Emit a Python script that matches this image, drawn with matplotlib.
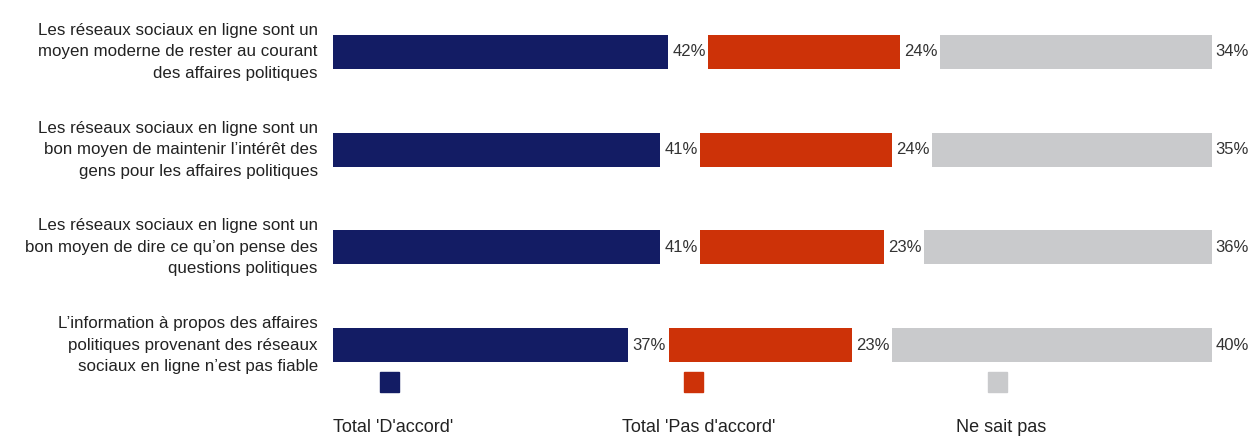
import matplotlib.pyplot as plt
from matplotlib.patches import Rectangle

plt.rcParams['font.family'] = ['Liberation Sans Narrow', 'Liberation Sans', 'DejaVu Sans']

statements = [
    "Les réseaux sociaux en ligne sont un\nmoyen moderne de rester au courant\ndes affaires politiques",
    "Les réseaux sociaux en ligne sont un\nbon moyen de maintenir l\u2019intérêt des\ngens pour les affaires politiques",
    "Les réseaux sociaux en ligne sont un\nbon moyen de dire ce qu\u2019on pense des\nquestions politiques",
    "L\u2019information à propos des affaires\npolitiques provenant des réseaux\nsociaux en ligne n\u2019est pas fiable",
]
series_names = ["Total 'D'accord'", "Total 'Pas d'accord'", "Ne sait pas"]
agree = [42, 41, 41, 37]
disagree = [24, 24, 23, 23]
dont_know = [34, 35, 36, 40]
colors = ["#131c64", "#cd3208", "#c9cacc"]

W, H = 1251, 438
fig = plt.figure(figsize=(W / 100, H / 100), dpi=100)
ax = fig.add_axes([333 / W, 0, (W - 333) / W, 1])
ax.set_xlim(0, (W - 333) / 7.98)
ax.set_ylim(3.951, -0.532)
ax.axis('off')

gap = 5.05
for i in range(len(statements)):
    left = 0
    for j, vals in enumerate([agree, disagree, dont_know]):
        v = vals[i]
        ax.barh(i, v, left=left, height=0.35, color=colors[j])
        ax.text(left + v + 0.5, i, "{}%".format(v), va='center', ha='left',
                fontsize=12, color='#333333')
        left += v + gap
    ax.text(-1.9, i, statements[i], ha='right', va='center', fontsize=12.2,
            color='#222222', linespacing=1.55, clip_on=False)

# legend
sq_x = [380, 684, 988]
lab_x = [333, 622, 956]
for j in range(3):
    fig.patches.append(Rectangle((sq_x[j] / W, 1 - 392 / H), 19 / W, 20 / H,
                                 transform=fig.transFigure, color=colors[j]))
    fig.text(lab_x[j] / W, 1 - 428 / H, series_names[j], ha='left', va='center',
             fontsize=13, color='#222222')

fig.savefig("out.png", dpi=100)
